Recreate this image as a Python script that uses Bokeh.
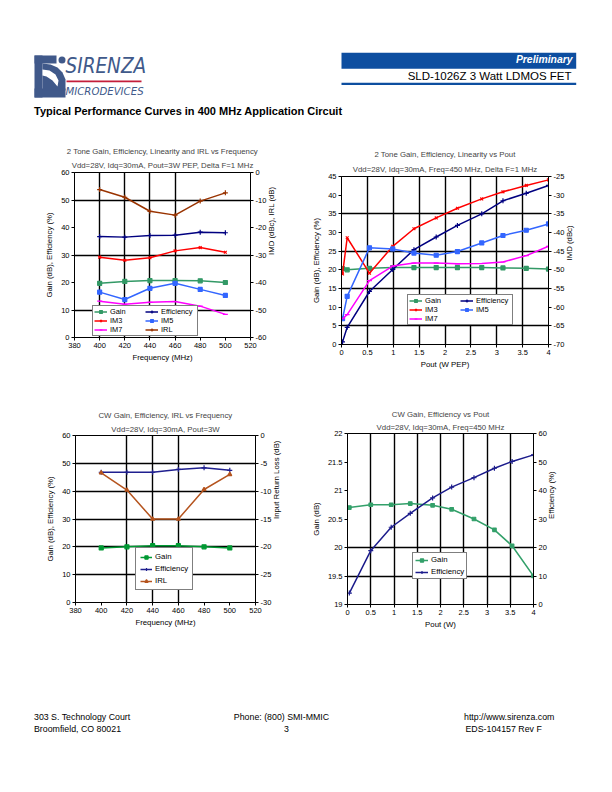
import math
from bokeh.plotting import figure
from bokeh.models import Range1d, LinearAxis, Legend, LegendItem, Title, FixedTicker
from bokeh.layouts import column, row
from bokeh.core.properties import value
from bokeh.embed import file_html
from bokeh.resources import INLINE

FONT = "Liberation Sans"

# ---------------- data ----------------
# Chart 1: 2 Tone vs frequency
freq = [400, 420, 440, 460, 480, 500]
c1_gain = [19.7, 20.4, 20.7, 20.7, 20.6, 20.0]
c1_eff = [36.7, 36.5, 37.1, 37.2, 38.3, 38.1]
c1_im3 = [-30.8, -31.9, -31.0, -28.5, -27.3, -29.0]
c1_im5 = [-43.5, -46.2, -42.1, -40.3, -42.5, -44.7]
c1_im7 = [-46.8, -47.9, -47.2, -46.9, -48.6, -51.6]
c1_irl = [-6.2, -9.0, -14.1, -15.5, -10.4, -7.4]

# Chart 2: 2 Tone vs Pout (W PEP)
pout_pep = [0.02, 0.11, 0.54, 0.99, 1.40, 1.83, 2.24, 2.71, 3.12, 3.57, 4.0]
c2_gain = [20.3, 20.0, 20.4, 20.6, 20.6, 20.6, 20.6, 20.6, 20.5, 20.4, 20.2]
c2_eff = [0.7, 4.6, 14.2, 20.1, 25.4, 28.8, 31.9, 35.0, 38.5, 40.5, 42.6]
c2_im3 = [-51.1, -41.4, -50.9, -43.7, -39.0, -36.1, -33.5, -31.0, -29.1, -27.4, -25.9]
c2_im5 = [-63.1, -57.1, -44.1, -44.4, -45.5, -46.1, -45.1, -42.8, -40.8, -39.4, -37.7]
c2_im7 = [-63.1, -62.0, -52.9, -49.0, -48.2, -48.2, -48.4, -48.3, -47.9, -46.2, -43.7]

# Chart 3: CW vs frequency
c3_gain = [19.6, 20.0, 20.4, 20.4, 20.0, 19.6]
c3_eff = [46.8, 46.8, 46.8, 47.8, 48.4, 47.5]
c3_irl = [-6.7, -9.8, -15.0, -15.0, -9.7, -7.0]

# Chart 4: CW vs Pout (W)
pout_cw = [0.04, 0.50, 0.94, 1.35, 1.83, 2.24, 2.72, 3.16, 3.54, 4.0]
c4_gain = [20.70, 20.75, 20.75, 20.77, 20.74, 20.67, 20.50, 20.31, 20.03, 19.50]
c4_eff = [4.0, 18.9, 27.1, 32.0, 37.4, 41.2, 44.5, 47.8, 50.2, 52.5]

# tick values
freq_ticks = [380, 400, 420, 440, 460, 480, 500, 520]
pout_ticks = [0, 0.5, 1, 1.5, 2, 2.5, 3, 3.5, 4]


def lbl(v):
    return str(int(v)) if float(v).is_integer() else str(v)


def overrides(ticks):
    return {(int(t) if float(t).is_integer() else t): lbl(t) for t in ticks}


def style_axis(ax, label):
    ax.axis_label = label
    ax.axis_line_color = "black"
    ax.axis_line_width = 1
    ax.major_tick_line_color = "black"
    ax.major_tick_out = 3
    ax.major_tick_in = 0
    ax.minor_tick_line_color = None
    ax.major_label_text_font = FONT
    ax.major_label_text_font_size = "7.5px"
    ax.major_label_text_color = "black"
    ax.major_label_standoff = 2
    ax.axis_label_text_font = FONT
    ax.axis_label_text_font_size = "7.8px"
    ax.axis_label_text_font_style = "normal"
    ax.axis_label_text_color = "black"
    ax.axis_label_standoff = 4


def make_chart(w, h, borders, xr, yr, y2r, xt, yt, y2t, xg, yg, t1, t2, xl, yl, y2l, st=(5, 2)):
    l, r, t, b = borders
    p = figure(width=w, height=h, x_range=Range1d(*xr), y_range=Range1d(*yr),
               output_backend="svg", toolbar_location=None,
               min_border_left=l, min_border_right=r, min_border_top=t, min_border_bottom=b,
               title=t1)
    p.title.text_font = FONT
    p.title.text_font_size = "7.8px"
    p.title.text_font_style = "normal"
    p.title.align = "center"
    p.title.standoff = st[1]
    p.add_layout(Title(text=t2, align="center", text_font=FONT, text_font_size="7.8px",
                       text_font_style="normal", standoff=st[0]), "above")
    p.extra_y_ranges = {"r": Range1d(*y2r)}
    rax = LinearAxis(y_range_name="r")
    p.add_layout(rax, "right")
    xax = p.below[0]
    lax = p.left[0]
    style_axis(xax, xl)
    style_axis(lax, yl)
    style_axis(rax, y2l)
    xax.ticker = FixedTicker(ticks=xt)
    xax.major_label_overrides = overrides(xt)
    xax.axis_label_standoff = 2
    lax.ticker = FixedTicker(ticks=yt)
    lax.major_label_overrides = overrides(yt)
    rax.ticker = FixedTicker(ticks=y2t)
    rax.major_label_overrides = overrides(y2t)
    rax.axis_label_standoff = 2
    try:
        rax.axis_label_orientation = math.pi / 2
    except Exception:
        pass
    p.xgrid.ticker = FixedTicker(ticks=xg)
    p.ygrid.ticker = FixedTicker(ticks=yg)
    p.grid.grid_line_color = "black"
    p.grid.grid_line_width = 1.4
    p.outline_line_color = "black"
    p.outline_line_width = 1
    p.background_fill_color = "white"
    p.border_fill_color = "white"
    return p


def series(p, x, y, color, marker, size=4, right=False, lw=1.5):
    kw = {"y_range_name": "r"} if right else {}
    ln = p.line(x, y, line_color=color, line_width=lw, **kw)
    sc = p.scatter(x, y, marker=marker, size=size, line_color=color, fill_color=color,
                   line_width=1.2, **kw)
    return [ln, sc]


def add_legend(p, items, loc, ncols, glyph_w=13, spacing=0, padding=2, label_w=20,
               fs="7.8px", gh=8):
    leg = Legend(items=[LegendItem(label=k, renderers=v) for k, v in items],
                 location=loc, ncols=ncols, border_line_color="black", border_line_width=1,
                 background_fill_color="white", background_fill_alpha=1.0,
                 label_text_font=FONT, label_text_font_size=fs, label_text_color="black",
                 glyph_width=glyph_w, glyph_height=gh, label_height=gh, label_width=label_w,
                 label_standoff=3, spacing=spacing, padding=padding, margin=0)
    p.add_layout(leg)


GAIN = "#339966"
EFF = "#000080"
IM3 = "#FF0000"
IM5 = "#3366FF"
IM7 = "#FF00FF"
IRL = "#993300"

# ---------------- chart 1 ----------------
c1 = make_chart(300, 250, (74, 50, 37, 48), (380, 520), (0, 60), (-60, 0),
                freq_ticks, list(range(0, 61, 10)), list(range(-60, 1, 10)),
                [400, 420, 440, 460], [10, 30, 50],
                "2 Tone Gain, Efficiency, Linearity and IRL vs Frequency",
                "Vdd=28V, Idq=30mA, Pout=3W PEP, Delta F=1 MHz",
                "Frequency (MHz)", "Gain (dB), Efficiency (%)", "IMD (dBc), IRL (dB)", st=(5, 2))
r_gain = series(c1, freq, c1_gain, GAIN, "square", 4)
r_eff = series(c1, freq, c1_eff, EFF, "cross", 5)
r_im3 = series(c1, freq, c1_im3, IM3, "x", 4, right=True)
r_im5 = series(c1, freq, c1_im5, IM5, "square", 4, right=True)
r_im7 = series(c1, freq, c1_im7, IM7, "dash", 5, right=True)
r_irl = series(c1, freq, c1_irl, IRL, "cross", 5, right=True)
add_legend(c1, [("Gain", r_gain), ("IM3", r_im3), ("IM7", r_im7),
                ("Efficiency", r_eff), ("IM5", r_im5), ("IRL", r_irl)], (18, 1), 2,
           label_w=35, fs="7.4px", gh=7, padding=1)

# ---------------- chart 2 ----------------
c2 = make_chart(304, 250, (41, 56, 41, 41), (0, 4), (0, 45), (-70, -25),
                pout_ticks, list(range(0, 46, 5)), list(range(-70, -24, 5)),
                [0.5, 1, 1.5, 2, 2.5, 3, 3.5], [5, 15, 25, 35],
                "2 Tone Gain, Efficiency, Linearity vs Pout",
                "Vdd=28V, Idq=30mA, Freq=450 MHz, Delta F=1 MHz",
                "Pout (W PEP)", "Gain (dB), Efficiency (%)", "IMD (dBc)", st=(6, 2))
s_gain = series(c2, pout_pep, c2_gain, GAIN, "square", 4)
s_eff = series(c2, pout_pep, c2_eff, EFF, "cross", 5)
s_im3 = series(c2, pout_pep, c2_im3, IM3, "x", 4, right=True)
s_im5 = series(c2, pout_pep, c2_im5, IM5, "square", 4, right=True)
s_im7 = series(c2, pout_pep, c2_im7, IM7, "dash", 5, right=True)
add_legend(c2, [("Gain", s_gain), ("IM3", s_im3), ("IM7", s_im7),
                ("Efficiency", s_eff), ("IM5", s_im5)], (66, 19), 2,
           label_w=35, fs="7.6px", gh=7, padding=1)

# ---------------- chart 3 ----------------
c3 = make_chart(300, 265, (75, 45, 50, 48), (380, 520), (0, 60), (-30, 0),
                freq_ticks, list(range(0, 61, 10)), list(range(-30, 1, 5)),
                [420, 440, 460], [10, 20, 30, 40, 50],
                "CW Gain, Efficiency, IRL vs Frequency",
                "Vdd=28V, Idq=30mA, Pout=3W",
                "Frequency (MHz)", "Gain (dB), Efficiency (%)", "Input Return Loss (dB)",
                st=(4, 2))
t_gain = series(c3, freq, c3_gain, "#009933", "square", 4)
t_eff = series(c3, freq, c3_eff, "#1F1F8F", "cross", 5)
t_irl = series(c3, freq, c3_irl, "#B5541E", "triangle", 4, right=True)
add_legend(c3, [("Gain", t_gain), ("Efficiency", t_eff), ("IRL", t_irl)], (60, 12), 1,
           glyph_w=12, spacing=3, padding=4)

# ---------------- chart 4 ----------------
c4 = make_chart(304, 265, (47, 71, 48, 46), (0, 4), (19, 22), (0, 60),
                pout_ticks, [19, 19.5, 20, 20.5, 21, 21.5, 22], list(range(0, 61, 10)),
                [0.5, 1, 1.5, 2, 2.5, 3, 3.5], [19.5, 20],
                "CW Gain, Efficiency vs Pout",
                "Vdd=28V, Idq=30mA, Freq=450 MHz",
                "Pout (W)", "Gain (dB)", "Efficiency (%)", st=(3, 2))
u_gain = series(c4, pout_cw, c4_gain, "#33A06A", "square", 3.5)
u_eff = series(c4, pout_cw, c4_eff, "#1C1C8C", "cross", 5, right=True)
add_legend(c4, [("Gain", u_gain), ("Efficiency", u_eff)], (65, 25), 1,
           glyph_w=13, spacing=3, padding=2)

# ---------------- header ----------------
LOGO = "#40598A"
hdr = figure(width=604, height=135, x_range=Range1d(0, 604), y_range=Range1d(135, 0),
             x_axis_type=None, y_axis_type=None, output_backend="svg", toolbar_location=None,
             min_border=0)
hdr.grid.visible = False
hdr.outline_line_color = None
# logo mark
hdr.quad(left=[34, 34, 34], right=[42, 56, 65], top=[55, 55, 88], bottom=[97, 63, 97],
         fill_color=LOGO, line_color=None)
hdr.patch([42, 50, 57, 62, 65, 65, 42], [63, 64, 67, 72, 79, 90, 90], fill_color=LOGO,
          line_color=None)
hdr.patch([42, 49, 55, 58, 57, 52, 46, 42], [69, 70, 74, 80, 86, 80, 76, 75],
          fill_color="white", line_color=None)
hdr.scatter([61.5], [59.5], size=7, marker="circle", fill_color=LOGO, line_color=None)
hdr.text(x=[65], y=[65.5], text=["SIRENZA"], text_font=value("DejaVu Sans Condensed"),
         text_font_size="20.5px", text_font_style="italic", text_color=LOGO,
         text_baseline="middle", text_align="left")
hdr.quad(left=[66], right=[141], top=[80], bottom=[81.7], fill_color="#C41E3A", line_color=None)
hdr.text(x=[65], y=[91], text=["MICRODEVICES"], text_font=value("DejaVu Sans Condensed"),
         text_font_size="11.3px", text_font_style="italic", text_color=LOGO,
         text_baseline="middle", text_align="left")
# blue bar + line
hdr.quad(left=[341], right=[575.7], top=[52.3], bottom=[68.3], fill_color="#0D4EA0",
         line_color=None)
hdr.quad(left=[341], right=[575.7], top=[82.3], bottom=[84.5], fill_color="#0D4EA0",
         line_color=None)
hdr.text(x=[572], y=[59], text=["Preliminary"], text_font=value(FONT),
         text_font_size="10.4px", text_font_style="bold italic", text_color="white",
         text_baseline="middle", text_align="right")
hdr.text(x=[571], y=[75], text=["SLD-1026Z 3 Watt LDMOS FET"], text_font=value(FONT),
         text_font_size="11.5px", text_color="black", text_baseline="middle", text_align="right")
hdr.text(x=[33.5], y=[110], text=["Typical Performance Curves in 400 MHz Application Circuit"],
         text_font=value(FONT), text_font_size="11px", text_font_style="bold",
         text_color="black", text_baseline="middle", text_align="left")

# ---------------- footer ----------------
ftr = figure(width=604, height=134, x_range=Range1d(0, 604), y_range=Range1d(784, 650),
             x_axis_type=None, y_axis_type=None, output_backend="svg", toolbar_location=None,
             min_border=0)
ftr.grid.visible = False
ftr.outline_line_color = None
fkw = dict(text_font=value(FONT), text_font_size="8.8px", text_color="black",
           text_baseline="middle")
ftr.text(x=[33.5, 33.5], y=[716.5, 728], text=["303 S. Technology Court", "Broomfield, CO 80021"],
         text_align="left", **fkw)
ftr.text(x=[281, 286], y=[716.5, 728], text=["Phone: (800) SMI-MMIC", "3"],
         text_align="center", **fkw)
ftr.text(x=[463.5, 465], y=[716.5, 728], text=["http://www.sirenza.com", "EDS-104157 Rev F"],
         text_align="left", **fkw)

layout = column(hdr, row(column(c1), column(c2)), row(column(c3), column(c4)), ftr)
open("out.html", "w").write(file_html(layout, INLINE))
